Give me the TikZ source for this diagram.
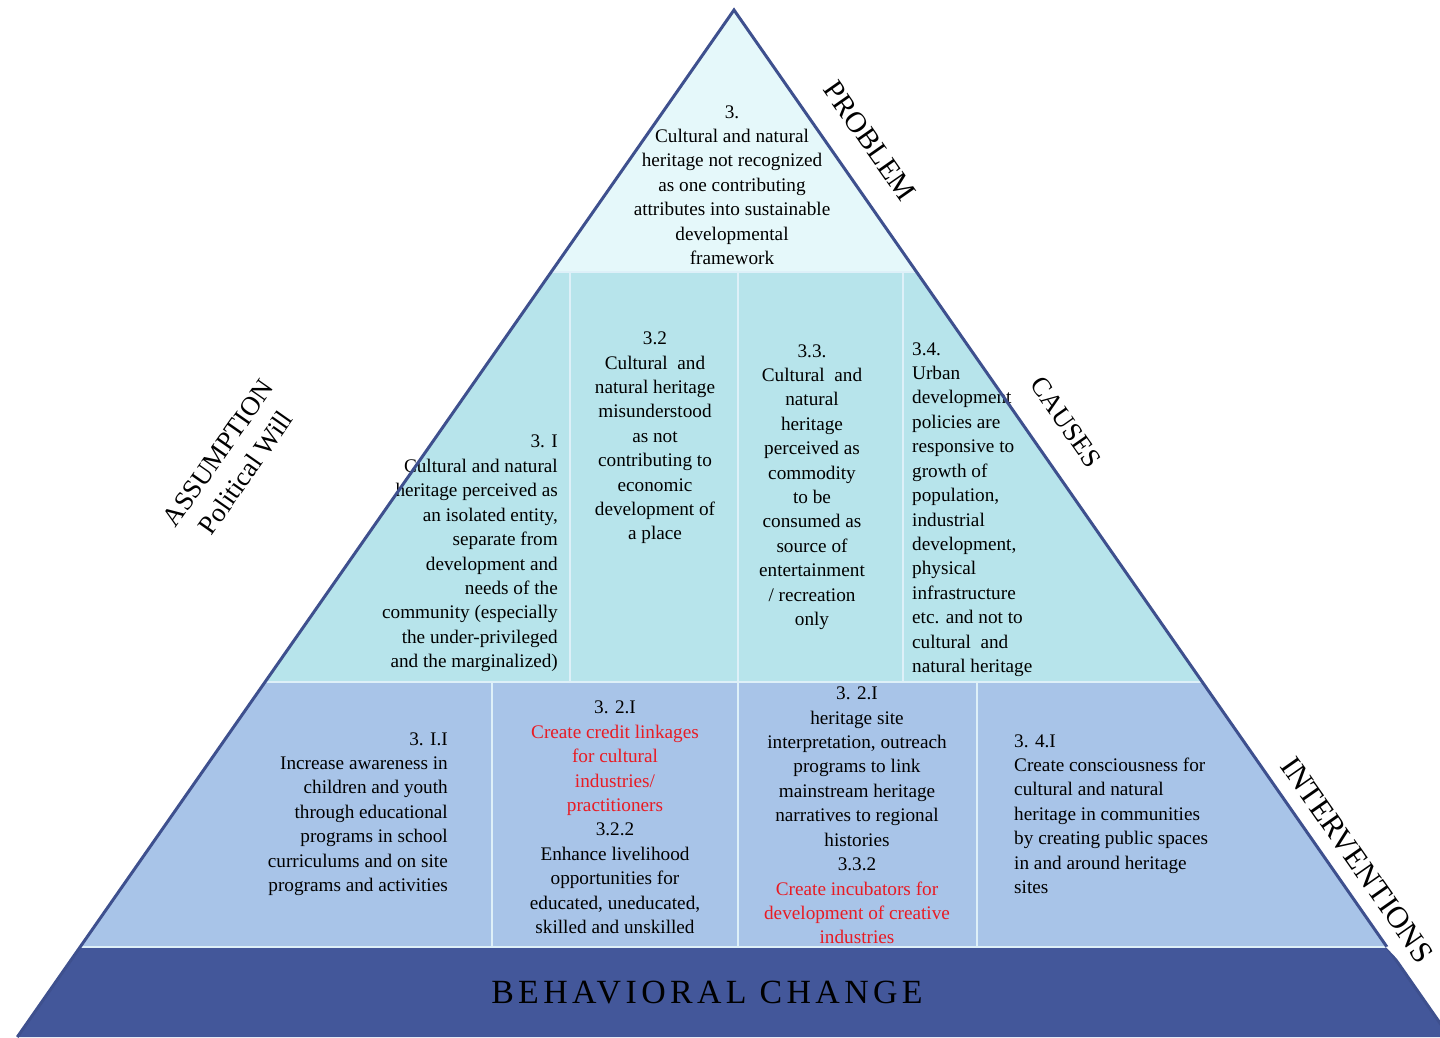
\documentclass[tikz,border=0pt]{standalone}
\usepackage{fontspec}
\setmainfont{Liberation Serif}
\definecolor{topc}{RGB}{229,248,250}
\definecolor{midc}{RGB}{183,228,235}
\definecolor{lowc}{RGB}{168,196,232}
\definecolor{basec}{RGB}{67,87,154}
\definecolor{edgec}{RGB}{62,80,142}
\definecolor{divc}{RGB}{222,240,248}
\definecolor{redt}{RGB}{232,28,36}
\begin{document}
\begin{tikzpicture}[x=1bp,y=-1bp,
  every node/.style={inner sep=0pt},
  body/.style={font=\fontsize{19.3}{24.5}\selectfont, text=black},
  lbl/.style={font=\fontsize{27}{34}\selectfont, text=black, rotate=-55},
  divider/.style={draw=divc, line width=1.6},
  edgeline/.style={draw=edgec, line width=3, line join=miter}]
\useasboundingbox (0,0) rectangle (1440,1037);
\coordinate (apex) at (734,10);
\coordinate (bl) at (17.3,1037);
\coordinate (br) at (1449.7,1037);
\begin{scope}
  \clip (apex) -- (bl) -- (br) -- cycle;
  \fill[topc] (0,0) rectangle (1460,272);
  \fill[midc] (0,272) rectangle (1460,682);
  \fill[lowc] (0,682) rectangle (1460,947);
  \fill[basec] (0,947) rectangle (1460,1040);
  \draw[divider] (0,272) -- (1460,272);
  \draw[divider] (0,682) -- (1460,682);
  \draw[divider, line width=2.4] (0,947) -- (1460,947);
  \draw[divider] (570,272) -- (570,682);
  \draw[divider] (738,272) -- (738,682);
  \draw[divider] (903,272) -- (903,682);
  \draw[divider] (492,682) -- (492,947);
  \draw[divider] (738,682) -- (738,947);
  \draw[divider] (977,682) -- (977,947);
\end{scope}

% problem
\node[body, align=center] (prob) at (732,185) {3.\\Cultural and natural\\heritage not recognized\\as one contributing\\attributes into sustainable\\developmental\\framework};

% causes
\node[body, align=right, anchor=east] (c1) at (558,553.5) {3. I\\Cultural and natural\\heritage perceived as\\an isolated entity,\\separate from\\development and\\needs of the\\community (especially\\the under-privileged\\and the marginalized)};
\node[body, align=center] (c2) at (655,438) {3.2\\Cultural\ \ and\\natural heritage\\misunderstood\\as not\\contributing to\\economic\\development of\\a place};
\node[body, align=center] (c3) at (812,487) {3.3.\\Cultural\ \ and\\natural\\heritage\\perceived as\\commodity\\to be\\consumed as\\source of\\entertainment\\/ recreation\\only};
\node[body, align=left, anchor=west] (c4) at (912,509.5) {3.4.\\Urban\\development\\policies are\\responsive to\\growth of\\population,\\industrial\\development,\\physical\\infrastructure\\etc. and not to\\cultural\ \ and\\natural heritage};

% interventions
\node[body, align=right, anchor=east] (i1) at (448,814) {3. I.I\\Increase awareness in\\children and youth\\through educational\\programs in school\\curriculums and on site\\programs and activities};
\node[body, align=center] (i2) at (615,817.5) {3. 2.I\\\textcolor{redt}{Create credit linkages}\\\textcolor{redt}{for cultural}\\\textcolor{redt}{industries/}\\\textcolor{redt}{practitioners}\\3.2.2\\Enhance livelihood\\opportunities for\\educated, uneducated,\\skilled and unskilled};
\node[body, align=center] (i3) at (857,815.5) {3. 2.I\\heritage site\\interpretation, outreach\\programs to link\\mainstream heritage\\narratives to regional\\histories\\3.3.2\\\textcolor{redt}{Create incubators for}\\\textcolor{redt}{development of creative}\\\textcolor{redt}{industries}};
\node[body, align=left, anchor=west] (i4) at (1014,814) {3. 4.I\\Create consciousness for\\cultural and natural\\heritage in communities\\by creating public spaces\\in and around heritage\\sites};

% outline
\draw[edgeline] (bl) -- (apex) -- (br);
\fill[white] (1386,947) -- (1440,1004) -- (1440,930) -- cycle;

% side labels
\node[lbl, font=\fontsize{29.5}{34}\selectfont] (lprob) at (870,141) {PROBLEM};
\node[lbl] (lcause) at (1066,422) {CAUSES};
\node[lbl, font=\fontsize{31}{34}\selectfont, fill=white, inner sep=2pt] (lint) at (1357,860) {INTERVENTIONS};
\node[lbl, rotate=110, align=center] (lass) at (232,463) {ASSUMPTION\\Political Will};

% base
\node[font=\fontsize{34}{36}\selectfont\addfontfeature{LetterSpace=13}, text=black] (beh) at (707,993) {BEHAVIORAL CHANGE};
\end{tikzpicture}
\end{document}
